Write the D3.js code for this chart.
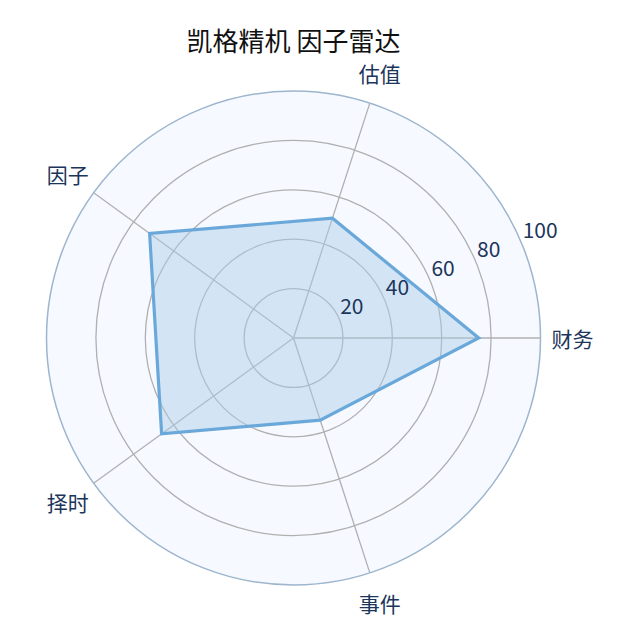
<!DOCTYPE html>
<html>
<head>
<meta charset="utf-8">
<script src="https://cdn.jsdelivr.net/npm/d3@7"></script>
<style>
  body { margin: 0; background: #fff; }
  text { font-family: "Noto Sans CJK SC", "Noto Sans", sans-serif; }
</style>
</head>
<body>
<div id="chart"></div>
<script>
// data
var title = "凯格精机 因子雷达";
var categories = ["财务", "估值", "因子", "择时", "事件"];
var scores = [75, 51, 72, 66, 35];
var radialTicks = [20, 40, 60, 80, 100];

var width = 640, height = 640;
var cx = 293.5, cy = 338, R = 247;

var svg = d3.select("#chart")
  .append("svg")
  .attr("width", width)
  .attr("height", height);

var r = d3.scaleLinear().domain([0, 100]).range([0, R]);
// d3 angles: clockwise from 12 o'clock, first axis points east, going counterclockwise
var angle = d3.scaleLinear()
  .domain([0, categories.length])
  .range([Math.PI / 2, Math.PI / 2 - 2 * Math.PI]);

function px(a, rad) { return cx + rad * Math.sin(a); }
function py(a, rad) { return cy - rad * Math.cos(a); }

var g = svg.append("g");

// polar background
g.append("circle")
  .attr("cx", cx).attr("cy", cy).attr("r", R)
  .attr("fill", "#f6f9ff");

// grid circles
g.selectAll(".ring")
  .data(radialTicks.slice(0, -1))
  .enter()
  .append("circle")
    .attr("cx", cx).attr("cy", cy)
    .attr("r", function(d) { return r(d); })
    .attr("fill", "none")
    .attr("stroke", "#b0b0b0")
    .attr("stroke-width", 1.3);

// spokes
g.selectAll(".spoke")
  .data(categories)
  .enter()
  .append("line")
    .attr("x1", cx).attr("y1", cy)
    .attr("x2", function(d, i) { return px(angle(i), R); })
    .attr("y2", function(d, i) { return py(angle(i), R); })
    .attr("stroke", "#b0b0b0")
    .attr("stroke-width", 1.3);

// data polygon
var radar = d3.lineRadial()
  .angle(function(d, i) { return angle(i); })
  .radius(function(d) { return r(d); })
  .curve(d3.curveLinearClosed);

g.append("path")
  .datum(scores)
  .attr("transform", "translate(" + cx + "," + cy + ")")
  .attr("d", radar)
  .attr("fill", "#a9cbe8")
  .attr("fill-opacity", 0.45)
  .attr("stroke", "#6aa8da")
  .attr("stroke-width", 3.2)
  .attr("stroke-linejoin", "miter");

// outer spine
g.append("circle")
  .attr("cx", cx).attr("cy", cy).attr("r", R)
  .attr("fill", "none")
  .attr("stroke", "#9db5cd")
  .attr("stroke-width", 1.5);

// radial tick labels along 22.5 degrees
var labelAngle = Math.PI / 2 - 22.5 * Math.PI / 180;
g.selectAll(".rlabel")
  .data(radialTicks)
  .enter()
  .append("text")
    .attr("x", function(d) { return px(labelAngle, r(d)) + 1; })
    .attr("y", function(d) { return py(labelAngle, r(d)) - 5; })
    .attr("text-anchor", "start")
    .attr("fill", "#1c355a")
    .style("font-size", "21px")
    .text(function(d) { return d; });

// category labels
g.selectAll(".tlabel")
  .data(categories)
  .enter()
  .append("text")
    .attr("x", function(d, i) { return px(angle(i), R + 32); })
    .attr("y", function(d, i) { return py(angle(i), R + 32); })
    .attr("text-anchor", "middle")
    .attr("dominant-baseline", "central")
    .attr("fill", "#1c355a")
    .style("font-size", "21px")
    .text(function(d) { return d; });

svg.append("text")
  .attr("x", cx)
  .attr("y", 39)
  .attr("text-anchor", "middle")
  .attr("dominant-baseline", "central")
  .attr("fill", "#111")
  .style("font-size", "26px")
  .text(title);
</script>
</body>
</html>
